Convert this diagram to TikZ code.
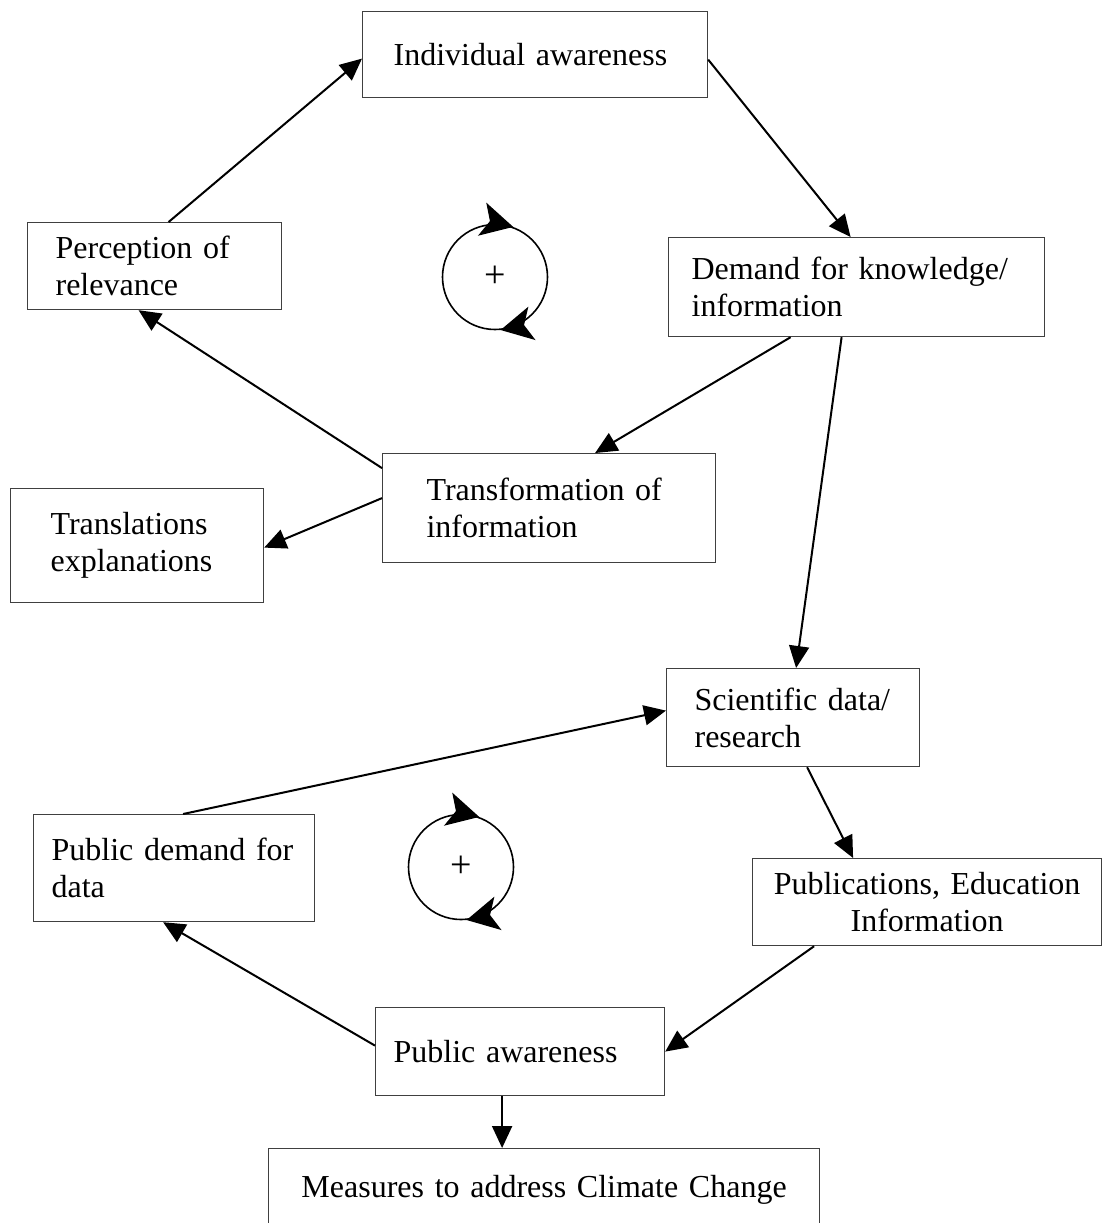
\documentclass[tikz,border=0pt]{standalone}
\usepackage{fontspec}
\setmainfont{Liberation Serif}
\usetikzlibrary{arrows.meta,calc}

\begin{document}
\begin{tikzpicture}[x = 0.5pt, y = -0.5pt, line width = 1pt,
                        panel/.style = {rectangle, draw = black!75, line width = 0.6pt, anchor = north west,
                                        align = left, inner ysep = 0pt, font = \fontsize{16}{18.5}\selectfont},
                        link/.style = {-{Triangle[length = 11pt, width = 10pt]}},
                        ring/.style = {circle, draw, line width = 0.8pt, minimum size = 52.5pt, inner sep = 0pt,
                                       font = \fontsize{19}{19}\selectfont},
                        spin/.style = {-{Stealth[length = 16pt, width = 17pt, inset = 4pt]}, line width = 0.8pt}]
      \useasboundingbox (0, 0) rectangle (1103, 1223);

      \node [panel, minimum width = 172.5pt, minimum height = 43pt, text width = 141.5pt, inner xsep = 15.5pt] (indiv) at (362, 11) {Individual awareness};
      \node [panel, minimum width = 127pt, minimum height = 43.5pt, text width = 99pt, inner xsep = 14pt] (perc) at (27, 222) {Perception of\\relevance};
      \node [panel, minimum width = 188pt, minimum height = 49.5pt, text width = 165pt, inner xsep = 11.5pt] (demand) at (668, 237) {Demand for knowledge/\\information};
      \node [panel, minimum width = 166.5pt, minimum height = 54.5pt, text width = 122.5pt, inner xsep = 22pt] (trans) at (382, 453) {Transformation of\\information};
      \node [panel, minimum width = 126.5pt, minimum height = 57pt, text width = 86.5pt, inner xsep = 20pt] (transl) at (10, 488) {Translations\\explanations};
      \node [panel, minimum width = 126.5pt, minimum height = 49pt, text width = 98.5pt, inner xsep = 14pt] (sci) at (666, 668) {Scientific data/\\research};
      \node [panel, minimum width = 140.5pt, minimum height = 53.5pt, text width = 122.5pt, inner xsep = 9pt] (pubdem) at (33, 814) {Public demand for\\data};
      \node [panel, align = center, minimum width = 174.5pt, minimum height = 43.5pt, text width = 164.5pt, inner xsep = 5pt] (pubs) at (752, 858) {Publications, Education\\Information};
      \node [panel, minimum width = 144.5pt, minimum height = 44pt, text width = 126.5pt, inner xsep = 9pt] (pa) at (375, 1007) {Public awareness};
      \node [panel, align = center, minimum width = 275.5pt, minimum height = 41pt, text width = 265.5pt, inner xsep = 5pt] (meas) at (268, 1148) {Measures to address Climate Change};

      \node [ring] (ringA) at (495, 277) {+};
      \node [ring] (ringB) at (461, 867) {+};
      \draw [spin] (ringA.82) -- (ringA.70);
      \draw [spin] (ringA.288) -- (ringA.276);
      \draw [spin] (ringB.82) -- (ringB.70);
      \draw [spin] (ringB.288) -- (ringB.276);

      \draw [link] ($(perc.north)+(14, 0)$) -- ($(indiv.west)+(0, 4)$);
      \draw [link] ($(indiv.east)+(0, 5)$) -- ($(demand.north)+(-6, 0)$);
      \draw [link] ($(demand.south)+(-66, 0)$) -- ($(trans.north)+(46, 0)$);
      \draw [link] ($(demand.south)+(-15, 0)$) -- ($(sci.north)+(3, 0)$);
      \draw [link] ($(trans.west)+(0, -40)$) -- ($(perc.south)+(-16, 0)$);
      \draw [link] ($(trans.west)+(0, -10)$) -- ($(transl.east)+(0, 2)$);
      \draw [link] ($(pubdem.north)+(9, 0)$) -- ($(sci.west)+(0, -7)$);
      \draw [link] ($(sci.south)+(14, 0)$) -- ($(pubs.north)+(-74, 0)$);
      \draw [link] ($(pubs.south)+(-113, 0)$) -- (pa.east);
      \draw [link] ($(pa.west)+(0, -6)$) -- ($(pubdem.south)+(-11, 0)$);
      \draw [link] ($(pa.south)+(-18, 0)$) -- ($(meas.north)+(-42, 0)$);
      \end{tikzpicture}
\end{document}
